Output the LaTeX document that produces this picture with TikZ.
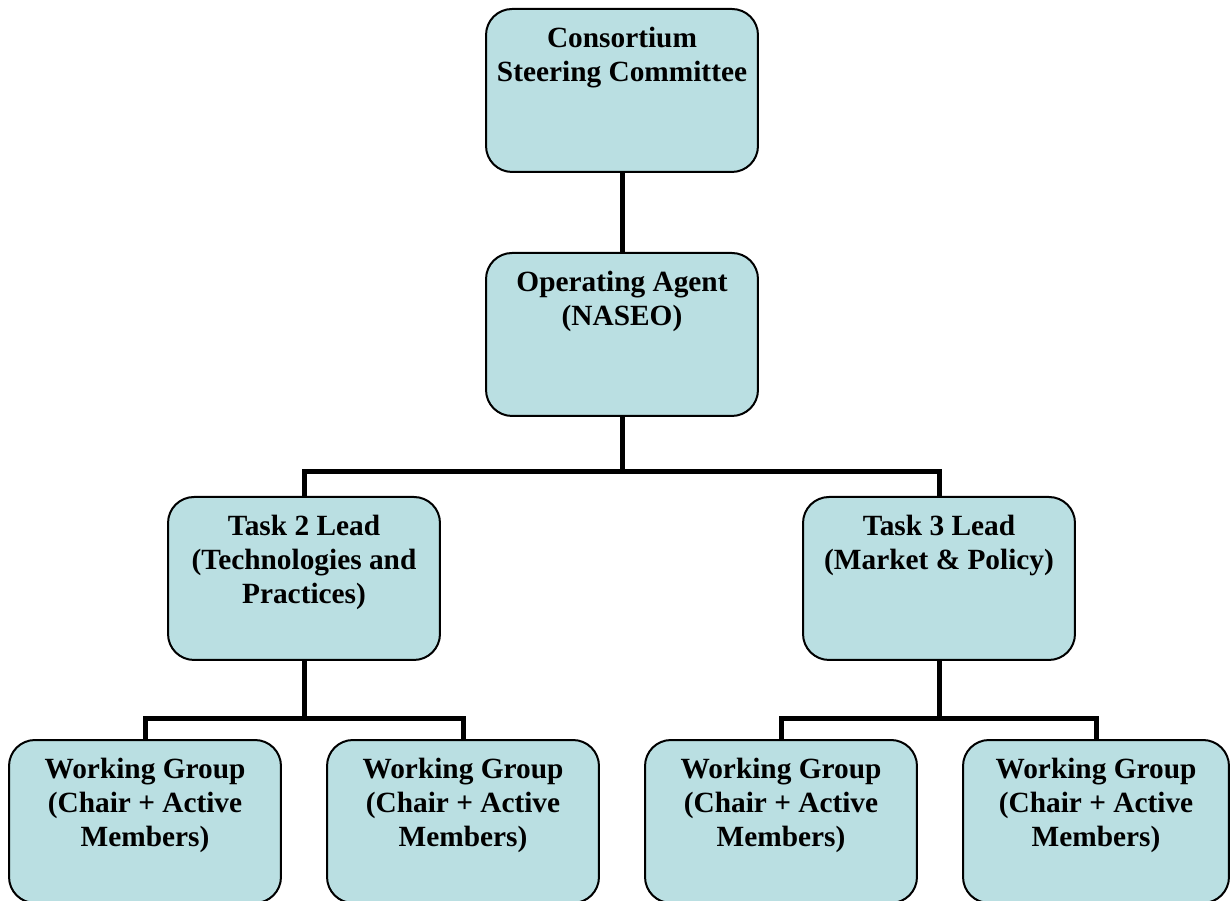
\documentclass[tikz,border=0pt]{standalone}
\usepackage{fontspec}
\setmainfont{Liberation Serif}
\usepackage{tikz}
\definecolor{boxfill}{RGB}{186,223,226}
\def\boxw{5.44cm}
\def\boxh{3.26cm}
\newcommand{\boxtext}[1]{\parbox[t][\boxh][t]{5.3cm}{\centering\vspace*{0.36cm}#1}}

\begin{document}
\begin{tikzpicture}[x=0.02cm, y=-0.02cm,
	unit/.style={draw=black, fill=boxfill, line width=0.04cm, rounded corners=0.52cm,
		anchor=north, inner sep=0pt, minimum width=\boxw, minimum height=\boxh,
		font=\fontsize{16.7}{19.35}\selectfont\bfseries},
	link/.style={line width=0.1cm}]
	\clip (0,0) rectangle (1230,901);
	%\draw[step=100, black!20!white] (0,0) grid (1230,901);
	\node[unit] (csc) at (622,8) {\boxtext{Consortium\\Steering Committee}};
	\node[unit] (oa) at (622,252) {\boxtext{Operating Agent\\(NASEO)}};
	\node[unit] (tt) at (304,496) {\boxtext{Task 2 Lead\\(Technologies and\\Practices)}};
	\node[unit] (tm) at (939,496) {\boxtext{Task 3 Lead\\(Market \& Policy)}};
	\node[unit] (wa) at (145,739) {\boxtext{Working Group\\(Chair + Active\\Members)}};
	\node[unit] (wb) at (463,739) {\boxtext{Working Group\\(Chair + Active\\Members)}};
	\node[unit] (wc) at (781,739) {\boxtext{Working Group\\(Chair + Active\\Members)}};
	\node[unit, minimum width=5.32cm] (wd) at (1096,739) {\boxtext{Working Group\\(Chair + Active\\Members)}};
	% connectors
	\draw[link] (csc.south) -- (oa.north);
	\draw[link] (oa.south) -- ++(0,55) -| (tt.north);
	\draw[link] (oa.south) -- ++(0,55) -| (tm.north);
	\draw[link] (tt.south) -- ++(0,58) -| (wa.north);
	\draw[link] (tt.south) -- ++(0,58) -| (wb.north);
	\draw[link] (tm.south) -- ++(0,58) -| (wc.north);
	\draw[link] (tm.south) -- ++(0,58) -| (wd.north);
\end{tikzpicture}
\end{document}
